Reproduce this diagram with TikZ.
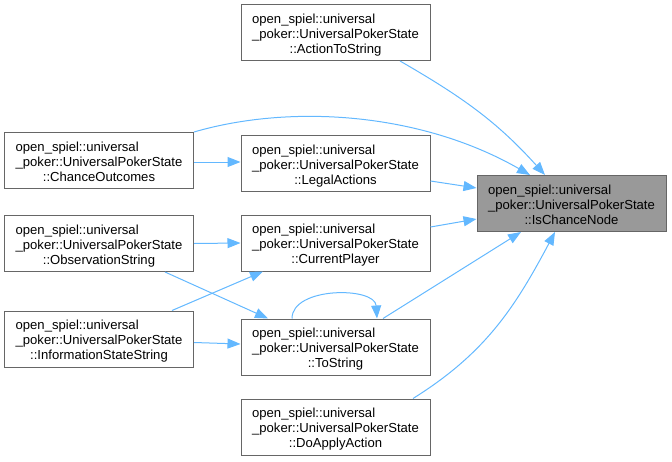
\documentclass[tikz,border=0pt]{standalone}
\usepackage{fontspec}
\setmainfont{Liberation Sans}
\usepackage{xcolor}
\definecolor{edgeblue}{HTML}{63B8FF}
\definecolor{boxgray}{HTML}{666666}
\definecolor{focusgray}{HTML}{999999}
\usetikzlibrary{arrows.meta,positioning}

\newcommand{\pokerfn}[1]{\raisebox{-2.5pt}[\height][\depth]{\begin{tabular}{@{}l@{}}open\_spiel::universal\\\_poker::UniversalPokerState\\\multicolumn{1}{@{}c@{}}{::#1}\end{tabular}}}

\tikzset{
  fnbox/.style={draw=boxgray, fill=white, line width=1pt, minimum width=189pt, minimum height=56pt, inner sep=0pt, font=\fontsize{13.1}{15}\selectfont},
  focusbox/.style={fnbox, fill=focusgray},
  calls/.style={draw=edgeblue, line width=1pt, -{Triangle[length=13pt,width=10pt]}}
}

\begin{document}
\begin{tikzpicture}[x=1pt, y=-1pt]
  \useasboundingbox (0,0) rectangle (672,461);

  %% Callee
  \node[focusbox] (isc) at (571.5,203.5) {\pokerfn{IsChanceNode}};

  %% Middle column
  \node[fnbox] (act) at (335.5,32.5) {\pokerfn{ActionToString}};
  \node[fnbox] (lega) at (335.5,163.5) {\pokerfn{LegalActions}};
  \node[fnbox] (cur) at (335.5,243) {\pokerfn{CurrentPlayer}};
  \node[fnbox] (tos) at (335.5,347) {\pokerfn{ToString}};
  \node[fnbox] (doa) at (335.5,427) {\pokerfn{DoApplyAction}};

  %% Left column
  \node[fnbox] (cho) at (99,160.5) {\pokerfn{ChanceOutcomes}};
  \node[fnbox] (obs) at (99,243.5) {\pokerfn{ObservationString}};
  \node[fnbox] (ifs) at (99,339) {\pokerfn{InformationStateString}};

  %% Calls into IsChanceNode
  \draw[calls] ([xshift=64.5pt]act.south) to[out=-30,in=132] ([xshift=-26.5pt]isc.north);
  \draw[calls] (cho.north east) .. controls (290,104) and (420,112) .. ([xshift=-41.5pt]isc.north);
  \draw[calls] ([yshift=-17.5pt]lega.east) -- ([yshift=15.5pt]isc.west);
  \draw[calls] ([yshift=16pt]cur.east) -- ([yshift=-15.5pt]isc.west);
  \draw[calls] ([xshift=47.5pt]tos.north) -- ([xshift=-50.5pt]isc.south);
  \draw[calls] ([xshift=77.5pt]doa.north) to[out=32,in=-118] ([xshift=-16.5pt]isc.south);

  %% Other calls
  \draw[calls] ([yshift=-1.5pt]cho.east) -- ([yshift=1.5pt]lega.west);
  \draw[calls] (obs.east) -- (cur.west);
  \draw[calls] ([xshift=66pt]obs.south) -- ([xshift=-67.5pt]tos.north);
  \draw[calls] ([xshift=73pt]ifs.north) -- ([xshift=-72.5pt]cur.south);
  \draw[calls] ([yshift=-3.5pt]ifs.east) -- ([yshift=3pt]tos.west);

  %% Recursive ToString
  \draw[calls] ([xshift=-43.5pt]tos.north) .. controls +(0,-32) and +(-2,-32) .. ([xshift=41.5pt]tos.north);
\end{tikzpicture}
\end{document}
